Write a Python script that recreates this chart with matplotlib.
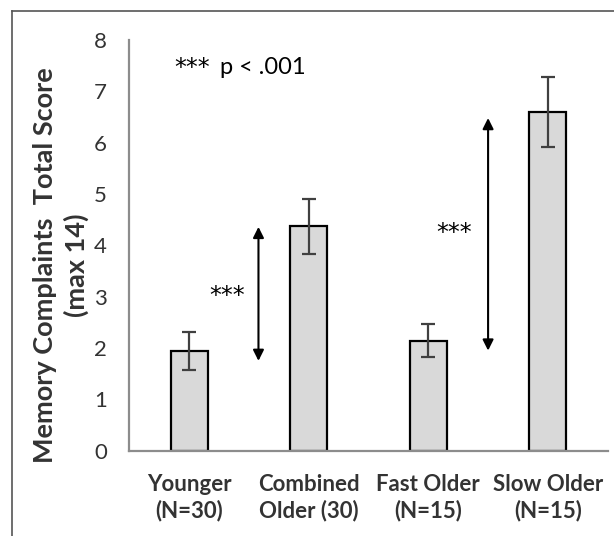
import matplotlib
matplotlib.use("Agg")
import matplotlib.pyplot as plt
from matplotlib.lines import Line2D

# data
groups = ["Younger\n(N=30)", "Combined\nOlder (30)", "Fast Older\n(N=15)", "Slow Older\n(N=15)"]
means = [1.94, 4.37, 2.14, 6.59]
errors = [0.37, 0.54, 0.32, 0.68]
yticks = [0, 1, 2, 3, 4, 5, 6, 7, 8]

# significance arrows: x position, low end, high end, star label position
sig_x = [0.58, 2.50]
sig_lo = [1.75, 1.95]
sig_hi = [4.36, 6.48]
star_x = [0.32, 2.22]
star_y = [3.01, 4.24]

plt.rcParams['font.family'] = ['Lato', 'DejaVu Sans']

fig = plt.figure(figsize=(6.14, 5.36), dpi=100)
ax = fig.add_axes([0.2106, 0.1591, 0.7791, 0.7663])

x = range(len(groups))
ax.bar(x, means, width=0.31, color="#d9d9d9", edgecolor="black", linewidth=1.6, zorder=2)
ax.errorbar(x, means, yerr=errors, fmt="none", ecolor="#404040", elinewidth=1.6,
            capsize=4.7, capthick=1.6, zorder=3)

for i in range(len(sig_x)):
    ax.annotate("", xy=(sig_x[i], sig_hi[i]), xytext=(sig_x[i], sig_lo[i]),
                arrowprops=dict(arrowstyle="<|-|>", color="black", lw=1.5,
                                mutation_scale=16, shrinkA=0, shrinkB=0))
    ax.text(star_x[i], star_y[i], "***", ha="center", va="center", fontsize=17,
            family="DejaVu Sans")

ax.text(-0.12, 7.46, "***", ha="left", va="center", fontsize=17, family="DejaVu Sans")
ax.text(0.26, 7.46, "p < .001", ha="left", va="center", fontsize=17)

ax.set_xlim(-0.5, 3.5)
ax.set_ylim(0, 8)
ax.set_yticks(yticks)
ax.set_xticks(list(x))
ax.set_xticklabels(groups, fontsize=16, fontweight="bold", color="#333333",
                   linespacing=1.25)
ax.tick_params(axis="y", labelsize=16, length=0, pad=16, labelcolor="#333333")
ax.tick_params(axis="x", length=0, pad=17)

for s in ["top", "right"]:
    ax.spines[s].set_visible(False)
for s in ["left", "bottom"]:
    ax.spines[s].set_color("#8c8c8c")
    ax.spines[s].set_linewidth(1.6)

fig.text(0.073, 0.506, "Memory Complaints  Total Score", rotation=90, ha="center", va="center",
         fontsize=19.5, fontweight="bold", color="#333333")
fig.text(0.124, 0.506, "(max 14)", rotation=90, ha="center", va="center",
         fontsize=19.5, fontweight="bold", color="#333333")

# outer frame
fig.add_artist(Line2D([0.019, 0.019], [0.0, 0.979], color="#555555", lw=1.2))
fig.add_artist(Line2D([0.019, 1.0], [0.979, 0.979], color="#555555", lw=1.2))

fig.savefig("out.png", dpi=100)
